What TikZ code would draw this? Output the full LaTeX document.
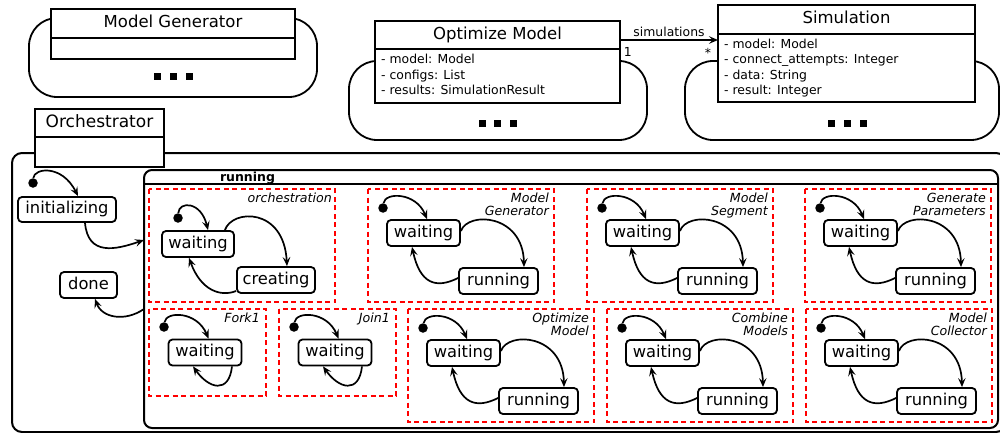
\documentclass[tikz,border=0pt]{standalone}
\usepackage{fontspec}
\setmainfont{DejaVu Sans}[ItalicFont={DejaVu Sans Oblique},BoldFont={DejaVu Sans Bold}]
\usetikzlibrary{arrows.meta,calc}

\tikzset{
  classhead/.style={draw, line width=2pt, fill=white, inner sep=0pt, outer sep=0pt,
    font=\fontsize{16.5}{19}\selectfont, text height=12pt, text depth=3.5pt},
  classbody/.style={draw, line width=2pt, fill=white, inner sep=0pt, outer sep=0pt, anchor=north},
  attrs/.style={inner sep=0pt, anchor=north west, align=left,
    font=\fontsize{12.4}{15.5}\selectfont},
  stbox/.style={draw, line width=1.8pt, rounded corners=4pt, fill=white, inner sep=0pt,
    minimum height=26pt, font=\fontsize{16.3}{19}\selectfont, text height=12pt, text depth=3.6pt},
  initdot/.style={circle, fill=black, inner sep=0pt, minimum size=9.5pt},
  trans/.style={line width=1.7pt, -{Stealth[length=9pt,width=7.5pt,inset=3.5pt]}},
  regionbox/.style={draw=red, line width=2pt, dash pattern=on 5pt off 3.5pt},
  regiontitle/.style={anchor=north east, inner sep=0pt, align=right,
    font=\itshape\fontsize{12.6}{13}\selectfont},
  bgshape/.style={draw, line width=1.8pt, rounded corners=28pt},
  container/.style={draw, line width=2pt, inner sep=0pt, outer sep=0pt, anchor=north west},
  smalltext/.style={inner sep=0pt, font=\fontsize{12.4}{14}\selectfont},
}

% Orthogonal region with an initial state, "waiting" and "running"
\newcommand\FullRegion[5]{%
  \begin{scope}[shift={(#2,#3)}]
    \draw[regionbox] (0,0) rectangle (186,#4);
    \node[regiontitle] (#1t) at (181,4) {#5};
    \node[initdot] (#1i) at (15,19) {};
    \node[stbox, minimum width=73pt] (#1w) at (55.5,44) {waiting};
    \node[stbox, minimum width=79pt] (#1r) at (130.5,92) {running};
    \draw[trans] (#1i) .. controls (17,3) and (48,3) .. ([xshift=3.5pt]#1w.north);
    \draw[trans] ([yshift=2pt]#1w.east) .. controls (100,22) and (155,25) .. ([xshift=25.5pt]#1r.north);
    \draw[trans] ([yshift=3pt]#1r.west) .. controls (68,100) and (52,95) .. ([xshift=-11.5pt]#1w.south);
  \end{scope}}

% Orthogonal region with a single "waiting" state and a self transition
\newcommand\SingleRegion[3]{%
  \begin{scope}[shift={(#2,309)}]
    \draw[regionbox] (0,0) rectangle (117,87);
    \node[regiontitle] (#1t) at (111,4) {#3};
    \node[initdot] (#1i) at (15,18) {};
    \node[stbox, minimum width=73pt] (#1w) at (56,43.5) {waiting};
    \draw[trans] (#1i) .. controls (17,2) and (48,2) .. ([xshift=3.5pt]#1w.north);
    \draw[trans] ([xshift=27pt]#1w.south) .. controls (80,85) and (60,80) .. ([xshift=-12pt]#1w.south);
  \end{scope}}

\begin{document}
\begin{tikzpicture}[x=1pt,y=-1pt]
\useasboundingbox (0,0) rectangle (1000,433);
\clip (0,0) rectangle (1000,433);

% ---------- class boxes with their collapsed state machines ----------
\draw[bgshape] (29,18) rectangle (317,97);
\draw[bgshape] (349,61) rectangle (647,140);
\draw[bgshape] (685,61) rectangle (999,140);

\node[classhead, minimum width=244pt, minimum height=29pt] (mg) at (173,23.5) {Model Generator};
\node[classbody, minimum width=244pt, minimum height=21pt] (mgb) at (mg.south) {};

\node[classhead, minimum width=245pt, minimum height=28pt] (om) at (497.5,35) {Optimize Model};
\node[classbody, minimum width=245pt, minimum height=54pt] (omb) at (om.south) {};
\node[attrs] (oma) at ($(omb.north west)+(6,5)$) {- model: Model\\- configs: List\\- results: SimulationResult};

\node[classhead, minimum width=257pt, minimum height=29pt] (sim) at (846.5,19.5) {Simulation};
\node[classbody, minimum width=257pt, minimum height=68pt] (simb) at (sim.south) {};
\node[attrs] (sima) at ($(simb.north west)+(6,4.5)$) {- model: Model\\- connect\_attempts: Integer\\- data: String\\- result: Integer};

\foreach \cx in {157,173,189} \fill (\cx-3.5,73.5) rectangle (\cx+3.5,80.5);
\foreach \cx in {482,497.5,513} \fill (\cx-3.5,120) rectangle (\cx+3.5,127);
\foreach \cx in {831,847,863} \fill (\cx-3.5,120) rectangle (\cx+3.5,127);

% association
\draw[trans] ([yshift=-5pt]om.east) -- ([yshift=-5pt]om.east -| simb.west)
  node[midway, above=2.5pt, smalltext] {simulations}
  node[at start, anchor=north west, xshift=3pt, yshift=-7pt, smalltext] {1}
  node[at end, anchor=north east, xshift=-6pt, yshift=-7pt, smalltext] {*};

% ---------- Orchestrator ----------
\node[container, rounded corners=10pt, minimum width=994pt, minimum height=279pt] (orch) at (12,153) {};
\node[classhead, font=\fontsize{17}{19}\selectfont, minimum width=129pt, minimum height=28pt] (oh) at (99.5,123) {Orchestrator};
\node[classbody, minimum width=129pt, minimum height=30pt] (ohb) at (oh.south) {};

\node[container, rounded corners=8pt, minimum width=854pt, minimum height=258pt] (run) at (144,170) {};
\draw[line width=2pt] ([yshift=-14pt]run.north west) -- ([yshift=-14pt]run.north east);
\node[inner sep=0pt, anchor=base, font=\bfseries\fontsize{12.5}{14}\selectfont] (runt) at (247.5,181) {running};

\node[initdot] (i0) at (33,183) {};
\node[stbox, minimum width=98pt, minimum height=25pt] (init) at (67,209.5) {initializing};
\node[stbox, minimum width=57pt] (done) at (88.5,285) {done};

\draw[trans] (i0) .. controls (34,168) and (62,164) .. ([xshift=11pt]init.north);
\draw[trans] ([xshift=18pt]init.south) .. controls (88,256) and (115,250) .. ([yshift=59pt]run.west);
\draw[trans] ([yshift=-10pt]run.west) .. controls (125,322) and (102,318) .. ([xshift=6.5pt]done.south);

% ---------- orthogonal regions of "running" ----------
\begin{scope}[shift={(149,189)}]
  \draw[regionbox] (0,0) rectangle (186,113);
  \node[regiontitle] (ot) at (183,4) {orchestration};
  \node[initdot] (oi) at (29,29) {};
  \node[stbox, minimum width=72pt] (ow) at (49,55) {waiting};
  \node[stbox, minimum width=78pt] (oc) at (127,91) {creating};
  \draw[trans] (oi) .. controls (30,12) and (52,12) .. ([xshift=10pt]ow.north);
  \draw[trans] ([xshift=-10pt]ow.north east) .. controls (83,20) and (135,18) .. ([xshift=11pt]oc.north);
  \draw[trans] ([yshift=-11pt]oc.west) .. controls (72,108) and (52,102) .. ([xshift=-9pt]ow.south);
\end{scope}

\FullRegion{rmg}{368}{189}{113}{Model\\Generator}
\FullRegion{rms}{587}{189}{113}{Model\\Segment}
\FullRegion{rgp}{805}{189}{113}{Generate\\Parameters}

\SingleRegion{rfk}{149}{Fork1}
\SingleRegion{rjn}{279}{Join1}

\FullRegion{rom}{408}{309}{113}{Optimize\\Model}
\FullRegion{rcm}{607}{309}{113}{Combine\\Models}
\FullRegion{rmc}{806}{309}{113}{Model\\Collector}
\end{tikzpicture}
\end{document}
